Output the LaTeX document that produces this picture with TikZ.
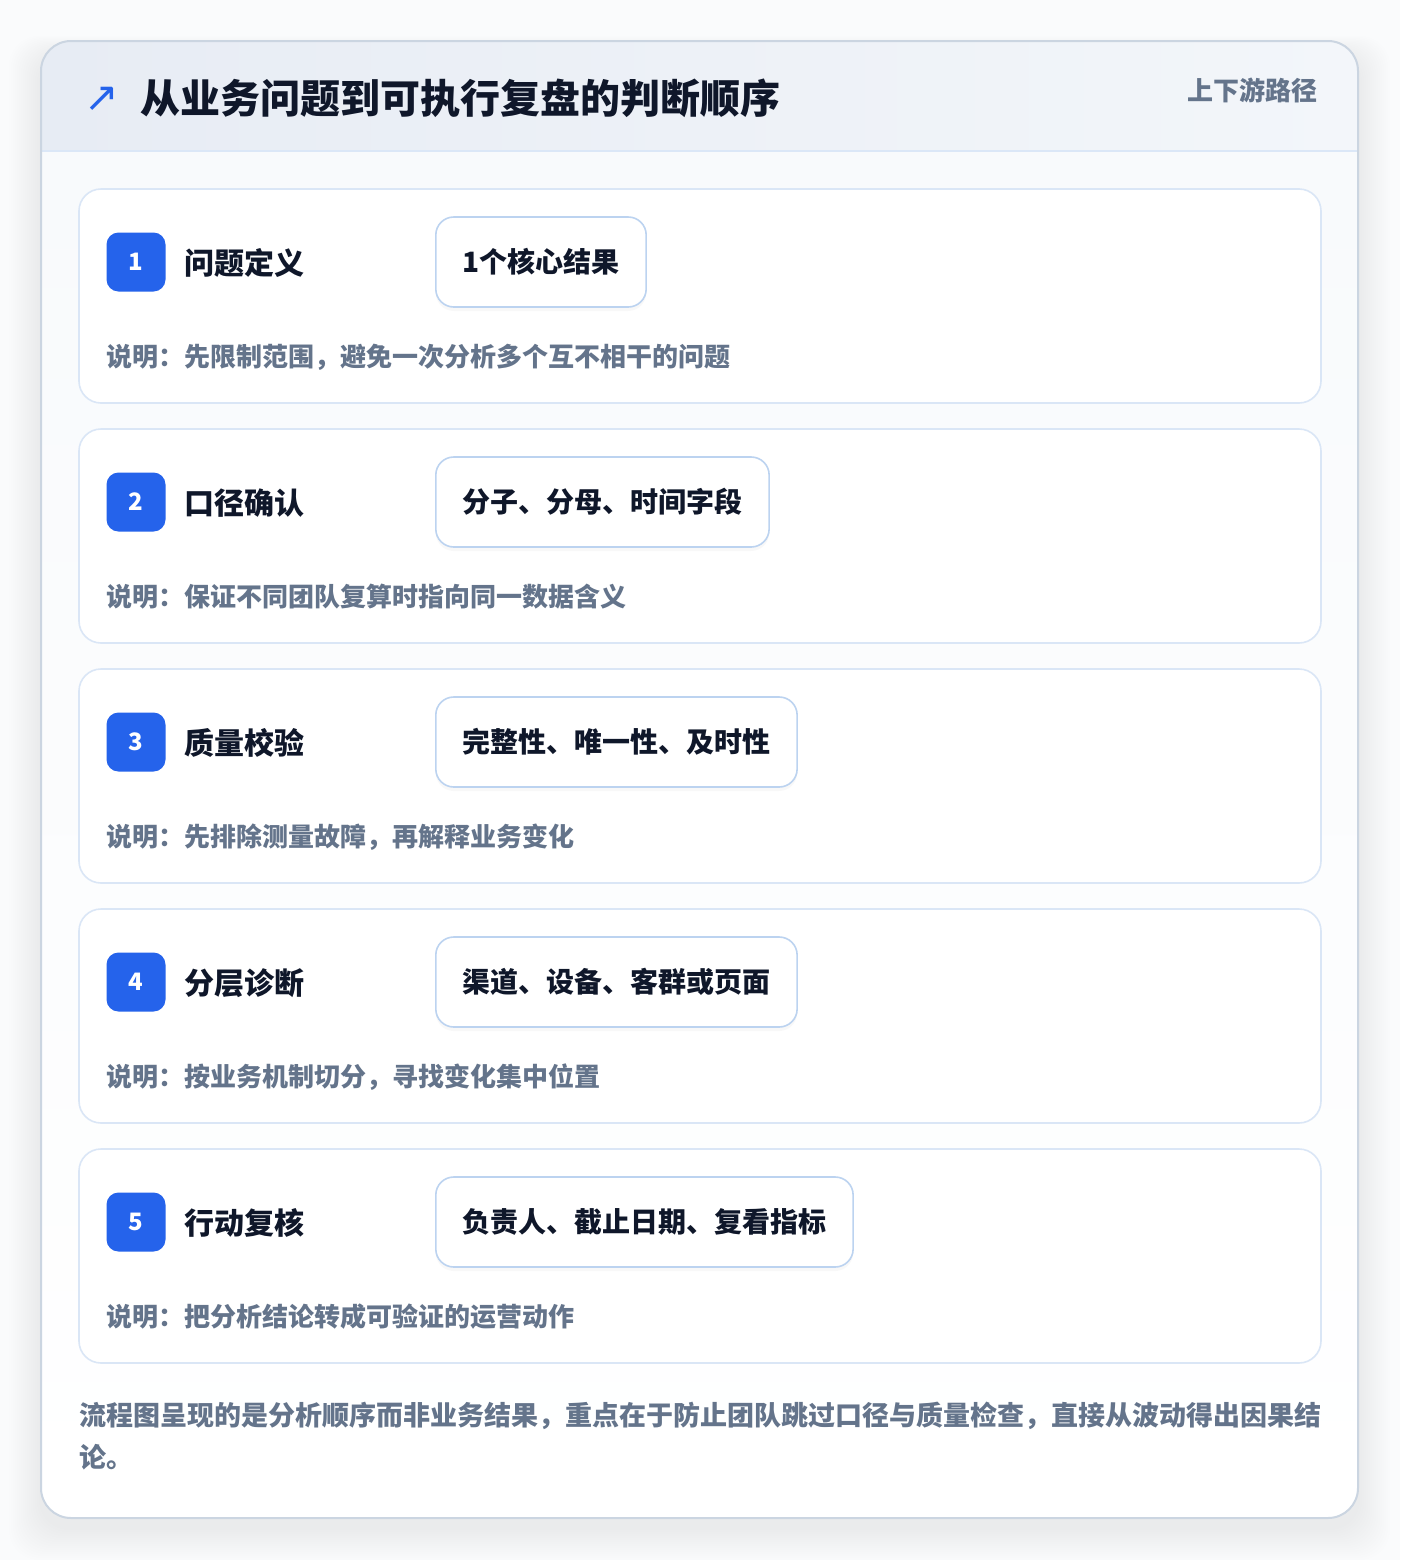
\documentclass[tikz,border=0pt]{standalone}
\usepackage{fontspec}
\setmainfont{Noto Sans CJK SC}
\newfontfamily\symf{DejaVu Sans}
\usetikzlibrary{shadows}
\definecolor{pagebg}{HTML}{FAFBFC}
\definecolor{outerborder}{HTML}{CBD5E1}
\definecolor{headl}{HTML}{E7ECF4}
\definecolor{headr}{HTML}{F3F6FA}
\definecolor{headline}{HTML}{DBE7F7}
\definecolor{bodybg}{HTML}{F8FAFC}
\definecolor{cardborder}{HTML}{DAE6F6}
\definecolor{chipborder}{HTML}{BCD3F0}
\definecolor{badgeblue}{HTML}{2563EB}
\definecolor{darktext}{HTML}{0F172A}
\definecolor{graytext}{HTML}{64748B}
\tikzset{
  txt/.style={inner sep=0pt, anchor=west},
  steptitle/.style={txt, text=darktext, font=\fontsize{22.5pt}{27pt}\selectfont\bfseries},
  desctext/.style={txt, text=graytext, font=\fontsize{19.5pt}{24pt}\selectfont\bfseries},
  chipbox/.style={draw=chipborder, line width=1.2pt, fill=white, rounded corners=13.5pt,
     anchor=west, inner xsep=20pt, inner ysep=0pt, minimum height=67.5pt,
     text=darktext, font=\fontsize{21pt}{25pt}\selectfont\bfseries,
     drop shadow={opacity=0.05, shadow xshift=0pt, shadow yshift=-3pt}},
  badgebox/.style={fill=badgeblue, rounded corners=9pt, minimum size=44.25pt, inner sep=0pt,
     text=white, font=\fontsize{18pt}{22pt}\selectfont\bfseries},
  cardbox/.style={draw=cardborder, line width=1.2pt, fill=white, rounded corners=16.5pt},
}
\begin{document}
\begin{tikzpicture}[x=0.75pt,y=-0.75pt]
\useasboundingbox (0,0) rectangle (1400,1560);
\fill[pagebg] (0,0) rectangle (1400,1560);
% outer shadow
\foreach \i in {1,...,16} {
  \fill[black, opacity=0.005, rounded corners=22.5pt]
    (41-2*\i, 41-1.2*\i+14) rectangle (1358+2*\i, 1518+2*\i+10);
}
% outer card
\fill[white, rounded corners=22.5pt] (41,41) rectangle (1358,1518);
\begin{scope}
  \clip[rounded corners=22.5pt] (41,41) rectangle (1358,1518);
  \shade[top color=bodybg, bottom color=white] (41,151) rectangle (1358,1518);
  \shade[left color=headl, right color=headr] (41,41) rectangle (1358,151);
\end{scope}
\draw[headline, line width=1.2pt] (41,151) -- (1358,151);
\draw[outerborder, line width=1.5pt, rounded corners=22.5pt] (41,41) rectangle (1358,1518);
% header
\node[txt, text=badgeblue, font=\symf\fontsize{31pt}{34pt}\selectfont] (arrow) at (84,99) {↗};
\node[txt, text=darktext, font=\fontsize{30pt}{36pt}\selectfont\bfseries] (title) at (140,98) {从业务问题到可执行复盘的判断顺序};
\node[txt, anchor=east, text=graytext, font=\fontsize{19.5pt}{24pt}\selectfont\bfseries] (tag) at (1318,90) {上下游路径};
% steps
\foreach \n/\t/\c/\d in {
  1/问题定义/1个核心结果/说明：先限制范围，避免一次分析多个互不相干的问题,
  2/口径确认/分子、分母、时间字段/说明：保证不同团队复算时指向同一数据含义,
  3/质量校验/完整性、唯一性、及时性/说明：先排除测量故障，再解释业务变化,
  4/分层诊断/渠道、设备、客群或页面/说明：按业务机制切分，寻找变化集中位置,
  5/行动复核/负责人、截止日期、复看指标/说明：把分析结论转成可验证的运营动作} {
  \pgfmathsetmacro{\top}{189+240*(\n-1)}
  \draw[cardbox] (79,\top) rectangle (1321,\top+214);
  \coordinate (card\n) at (79,\top);
  \node[badgebox] (badge\n) at (136,\top+73) {\n};
  \node[steptitle] (title\n) at (184,\top+74) {\t};
  \node[chipbox] (chip\n) at (435,\top+73) {\c};
  \node[desctext] (desc\n) at (106,\top+168) {\d};
}
% footer
\node[txt, align=left, text=graytext, font=\fontsize{20.25pt}{31.5pt}\selectfont\bfseries] (footer) at (79,1436)
  {流程图呈现的是分析顺序而非业务结果，重点在于防止团队跳过口径与质量检查，直接从波动得出因果结\\论。};
\end{tikzpicture}
\end{document}
